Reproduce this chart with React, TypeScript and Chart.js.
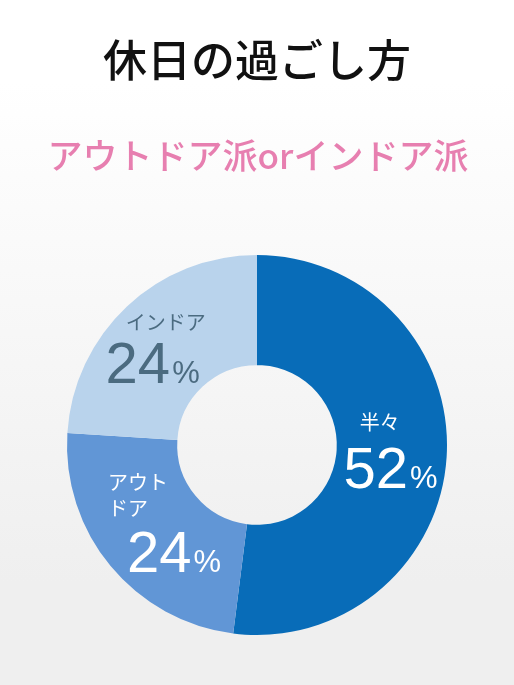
import React, { useEffect, useRef } from "react";
import { Chart, registerables } from "chart.js";

Chart.register(...registerables);

const titleText = "休日の過ごし方";
const subtitleText = "アウトドア派orインドア派";
const categories = ["半々", "アウトドア", "インドア"];
const labelLines = [["半々"], ["アウト", "ドア"], ["インドア"]];
const values = [52, 24, 24];
const colors = ["#086cb8", "#6196d6", "#b9d3ec"];
const textColors = ["#ffffff", "#ffffff", "#4b6b80"];

const labelPlugin = {
  id: "sliceLabels",
  afterDatasetsDraw(chart: any) {
    const ctx = chart.ctx;
    const meta = chart.getDatasetMeta(0);
    const cfg = [
      { nameX: -12, nameY: -31, align: "center", numX: -1, numY: 34.5 },
      { nameX: -45, nameY: -49, align: "left", numX: 21, numY: 41 },
      { nameX: 1, nameY: -24.6, align: "center", numX: -12, numY: 36.4 },
    ];
    meta.data.forEach((arc: any, i: number) => {
      const p = arc.tooltipPosition();
      const c = cfg[i];
      ctx.save();
      ctx.fillStyle = textColors[i];
      ctx.font = '400 20px "Noto Sans CJK JP"';
      ctx.textAlign = c.align;
      ctx.textBaseline = "middle";
      labelLines[i].forEach((line, k) => {
        ctx.fillText(line, p.x + c.nameX, p.y + c.nameY + k * 26);
      });
      const num = String(values[i]);
      ctx.font = '58px "Liberation Sans", Arial, sans-serif';
      const nw = ctx.measureText(num).width;
      ctx.font = '31px "Liberation Sans", Arial, sans-serif';
      const pw = ctx.measureText("%").width;
      const gap = 2;
      const total = nw + gap + pw;
      const left = p.x + c.numX - total / 2;
      ctx.textAlign = "left";
      ctx.textBaseline = "alphabetic";
      ctx.font = '58px "Liberation Sans", Arial, sans-serif';
      ctx.fillText(num, left, p.y + c.numY);
      ctx.font = '31px "Liberation Sans", Arial, sans-serif';
      ctx.fillText("%", left + nw + gap, p.y + c.numY);
      ctx.restore();
    });
  },
};

const bgPlugin = {
  id: "bgAndTitles",
  beforeDraw(chart: any) {
    const ctx = chart.ctx;
    const w = chart.width;
    const h = chart.height;
    ctx.save();
    const g = ctx.createLinearGradient(0, 0, 0, h);
    g.addColorStop(0, "#ffffff");
    g.addColorStop(0.12, "#ffffff");
    g.addColorStop(0.85, "#efefef");
    g.addColorStop(1, "#efefef");
    ctx.fillStyle = g;
    ctx.fillRect(0, 0, w, h);
    ctx.textAlign = "center";
    ctx.textBaseline = "middle";
    ctx.fillStyle = "#111111";
    ctx.font = '500 44px "Noto Sans CJK JP"';
    ctx.fillText(titleText, w / 2, 60);
    ctx.fillStyle = "#e77fb0";
    ctx.font = '500 35px "Noto Sans CJK JP"';
    ctx.fillText(subtitleText, w / 2 + 1, 156);
    ctx.restore();
  },
};

export default function App() {
  const ref = useRef<HTMLCanvasElement>(null);
  useEffect(() => {
    const chart = new Chart(ref.current as HTMLCanvasElement, {
      type: "doughnut",
      data: {
        labels: categories,
        datasets: [
          {
            data: values,
            backgroundColor: colors,
            borderWidth: 0,
          },
        ],
      },
      options: {
        animation: false,
        responsive: false,
        cutout: "42%",
        layout: { padding: { left: 67, right: 67, top: 255, bottom: 50 } },
        plugins: {
          legend: { display: false },
          tooltip: { enabled: false },
        },
      },
      plugins: [bgPlugin, labelPlugin],
    });
    return () => chart.destroy();
  }, []);
  return (
    <div style={{ position: "fixed", left: 0, top: 0, width: 514, height: 685 }}>
      <canvas ref={ref} width={514} height={685} style={{ width: 514, height: 685, display: "block" }} />
    </div>
  );
}
